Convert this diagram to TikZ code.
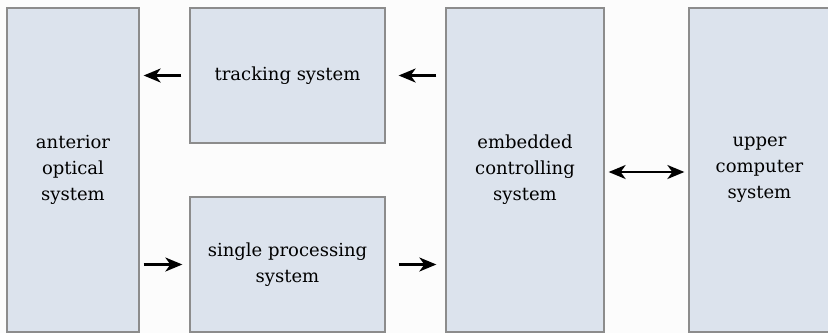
\documentclass[tikz,border=0pt]{standalone}
\usepackage{fontspec}
\setmainfont{DejaVu Serif}
\usetikzlibrary{shapes,arrows.meta,positioning,fit}
\definecolor{boxfill}{HTML}{DCE3ED}
\definecolor{boxline}{HTML}{8C8C8C}
\tikzstyle{block} = [draw=boxline,fill=boxfill,line width=1.3pt,rectangle,inner sep=0,align=center,font=\fontsize{18}{26}\selectfont]
\tikzstyle{link} = [line width=2.2pt,-{Stealth[length=17pt,width=14pt,inset=5pt]}]
\tikzstyle{twoway} = [line width=2.2pt,{Stealth[length=17pt,width=14pt,inset=5pt]}-{Stealth[length=17pt,width=14pt,inset=5pt]}]
\def \gap {4pt}

\begin{document}
\begin{tikzpicture}[x=1pt,y=-1pt]
      \useasboundingbox[fill=white!99!black] (0,0) rectangle (828,333);
      \node[block,minimum width=132pt,minimum height=324pt] (ant) at (73,170) {anterior\\optical\\system};
      \node[block,minimum width=195pt,minimum height=135pt] (trk) at (287.5,75.5) {tracking system};
      \node[block,minimum width=195pt,minimum height=135pt] (sig) at (287.5,264.5) {single processing\\system};
      \node[block,minimum width=158pt,minimum height=324pt] (emb) at (525,170) {embedded\\controlling\\system};
      \node[block,minimum width=141pt,minimum height=324pt] (upc) at (759.5,170) {upper\\computer\\system};
      \draw[link,shorten <=8pt,shorten >=\gap] (trk.west) -- (trk.west -| ant.east);
      \draw[link,shorten <=9pt,shorten >=13pt] (trk.east -| emb.west) -- (trk.east);
      \draw[link,shorten <=\gap,shorten >=7pt] (sig.west -| ant.east) -- (sig.west);
      \draw[link,shorten <=13pt,shorten >=9pt] (sig.east) -- (sig.east -| emb.west);
      \draw[twoway,shorten <=\gap,shorten >=\gap] ([yshift=-2pt]emb.east) -- ([yshift=-2pt]emb.east -| upc.west);
    \end{tikzpicture}
\end{document}
